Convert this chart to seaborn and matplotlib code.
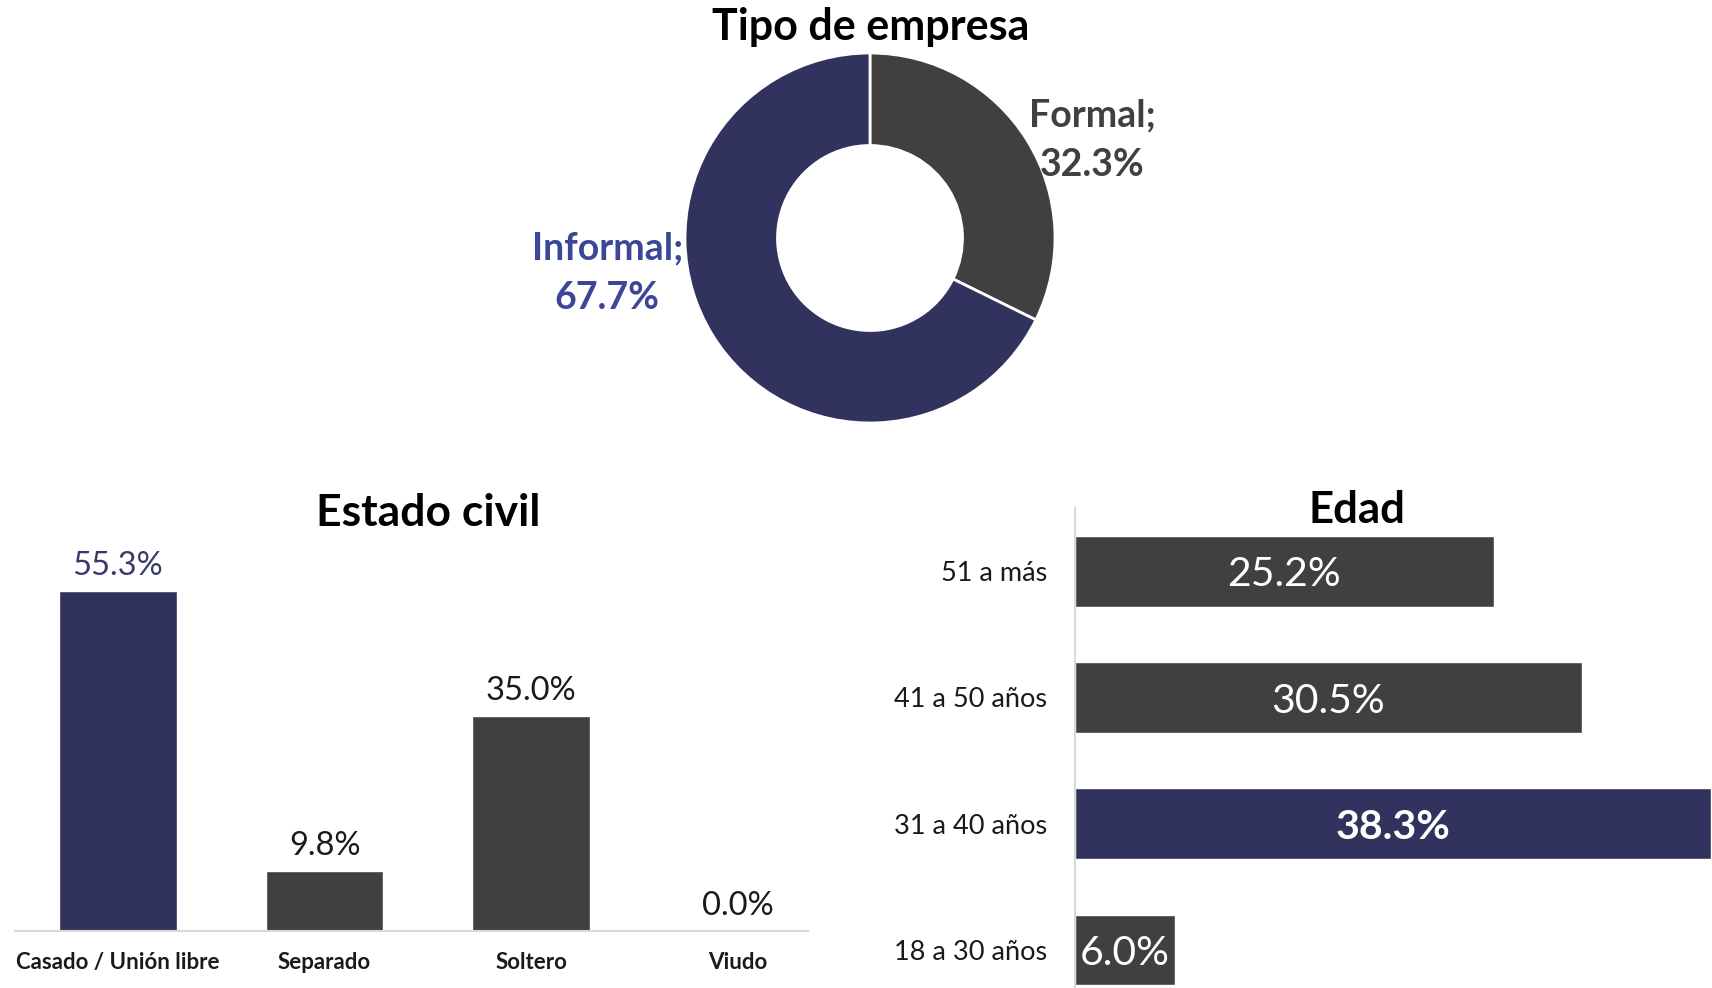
import matplotlib
matplotlib.use("Agg")
import matplotlib.pyplot as plt
import seaborn as sns
import pandas as pd

# ---- data ----
empresa_labels = ["Formal", "Informal"]
empresa_values = [32.3, 67.7]

civil_cats = ["Casado / Unión libre", "Separado", "Soltero", "Viudo"]
civil_values = [55.3, 9.8, 35.0, 0.0]

edad_cats = ["51 a más", "41 a 50 años", "31 a 40 años", "18 a 30 años"]
edad_values = [25.2, 30.5, 38.3, 6.0]

NAVY = "#32325e"
GRAY = "#404040"
BLUE_TXT = "#3b4796"

sns.set_theme(style="white")
plt.rcParams["font.family"] = ["Lato", "DejaVu Sans"]

W, H = 1712, 988
fig = plt.figure(figsize=(W / 100, H / 100), dpi=100)


def px_axes(left, top, right, bottom):
    return fig.add_axes([left / W, 1 - bottom / H, (right - left) / W, (bottom - top) / H])


# ---- donut ----
cx, cy, r = 870, 238, 185
axd = px_axes(cx - r, cy - r, cx + r, cy + r)
axd.pie(empresa_values, colors=[GRAY, NAVY], startangle=90, counterclock=False,
        wedgeprops=dict(width=0.5, edgecolor="white", linewidth=2))
axd.set_xlim(-1, 1)
axd.set_ylim(-1, 1)
axd.set_aspect("auto")
axd.text(1.2, 0.53, f"{empresa_labels[0]};\n{empresa_values[0]:.1f}%", ha="center", va="center",
         fontsize=27, fontweight="bold", color=GRAY, linespacing=1.55)
axd.text(-1.42, -0.19, f"{empresa_labels[1]};\n{empresa_values[1]:.1f}%", ha="center", va="center",
         fontsize=27, fontweight="bold", color=BLUE_TXT, linespacing=1.55)
fig.text(871 / W, 1 - 27 / H, "Tipo de empresa", ha="center", va="center",
         fontsize=31, fontweight="bold", color="black")

# ---- Estado civil ----
axc = px_axes(15, 560, 808, 931)
dfc = pd.DataFrame({"cat": civil_cats, "val": civil_values})
sns.barplot(data=dfc, x="cat", y="val", hue="cat", palette=[NAVY, GRAY, GRAY, GRAY],
            width=0.57, legend=False, ax=axc, saturation=1)
axc.set_xlim(-0.498, 3.34)
axc.set_ylim(0, (931 - 560) / 6.15)
axc.set_xlabel("")
axc.set_ylabel("")
axc.set_yticks([])
sns.despine(ax=axc, left=True)
axc.spines["bottom"].set_color("#d9d9d9")
axc.spines["bottom"].set_linewidth(1.5)
axc.tick_params(axis="x", length=0, pad=15)
for lab in axc.get_xticklabels():
    lab.set_fontweight("bold")
    lab.set_fontsize(16)
    lab.set_color("#1a1a1a")
for i, (c, v) in enumerate(zip(civil_cats, civil_values)):
    axc.annotate(f"{v:.1f}%", (i, v), xytext=(0, 7), textcoords="offset points",
                 ha="center", va="bottom", fontsize=23.5,
                 color="#3a3a6a" if i == 0 else "#1a1a1a")
fig.text(428 / W, 1 - 513 / H, "Estado civil", ha="center", va="center",
         fontsize=32, fontweight="bold", color="black")

# ---- Edad ----
axe = px_axes(1075, 508, 1712, 988)
dfe = pd.DataFrame({"cat": edad_cats, "val": edad_values})
sns.barplot(data=dfe, y="cat", x="val", hue="cat", palette=[GRAY, GRAY, NAVY, GRAY],
            width=0.56, legend=False, ax=axe, orient="h", saturation=1)
axe.set_xlim(0, 38.35)
axe.set_ylim(3.30, -0.5)
axe.set_xlabel("")
axe.set_ylabel("")
axe.set_xticks([])
sns.despine(ax=axe, bottom=True)
axe.spines["left"].set_color("#d9d9d9")
axe.spines["left"].set_linewidth(1.5)
axe.tick_params(axis="y", length=0, pad=20)
for lab in axe.get_yticklabels():
    lab.set_fontsize(19.5)
    lab.set_color("#1a1a1a")
for i, v in enumerate(edad_values):
    axe.text(v / 2, i + 0.03, f"{v:.1f}%", ha="center", va="center", fontsize=29.5,
             color="white", fontweight="bold" if i == 2 else "normal")
fig.text(1357 / W, 1 - 510 / H, "Edad", ha="center", va="center",
         fontsize=31.5, fontweight="bold", color="black")

fig.savefig("out.png", dpi=100, facecolor="white")
